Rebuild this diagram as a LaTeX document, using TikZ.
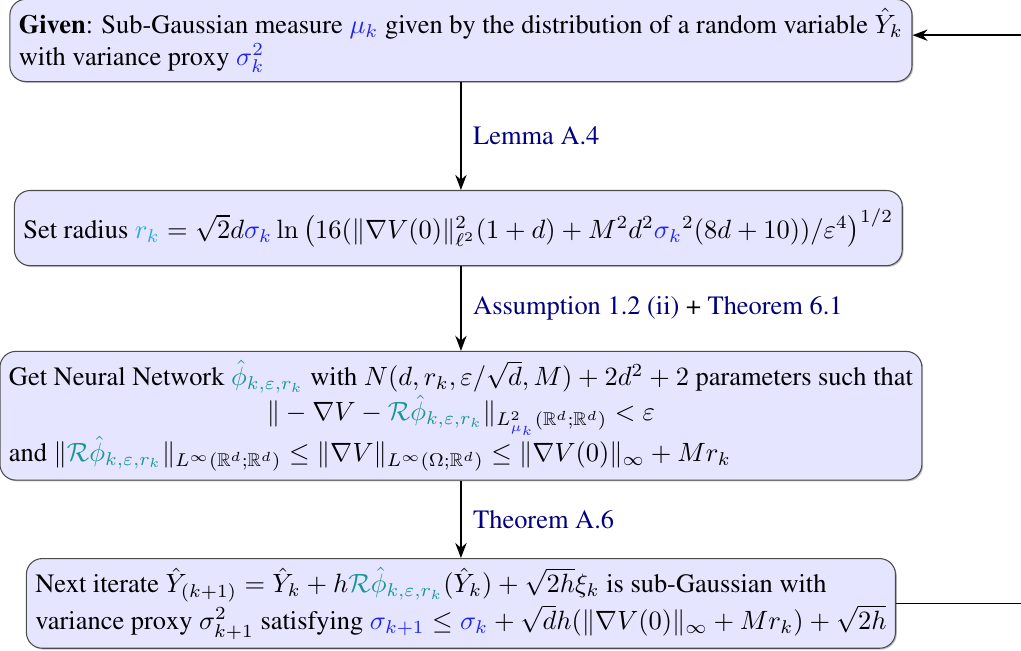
\documentclass[tikz,border=0pt]{standalone}
\usepackage{amsmath,amssymb}
\usepackage[T1]{fontenc}
\renewcommand{\rmdefault}{ptm}
\usepackage{tikz}
\usetikzlibrary{positioning,arrows.meta,calc,shadows}
\definecolor{sgblue}{RGB}{35,35,240}
\definecolor{radcyan}{RGB}{40,170,225}
\definecolor{nnteal}{RGB}{25,150,150}
\definecolor{refnavy}{HTML}{000080}
\newcommand{\eps}{\varepsilon}
\newcommand{\sk}{\textcolor{sgblue}{\sigma_k}}
\newcommand{\nnphi}{\textcolor{nnteal}{\hat{\phi}_{k,\eps,r_k}}}
\newcommand{\Rphi}{\textcolor{nnteal}{\mathcal{R}\hat{\phi}_{k,\eps,r_k}}}
\tikzset{
    stepbox/.style={rectangle,rounded corners=6pt,draw=black!70,fill=blue!10,
        minimum height=1cm,inner sep=3.4pt,align=left,
        drop shadow={shadow xshift=0.5pt,shadow yshift=-0.5pt,opacity=0.5}},
    flow/.style={->,>=Stealth,semithick},
    ref/.style={right,midway,xshift=1pt,text=refnavy},
}

\begin{document}
\begin{tikzpicture}[node distance=71pt,on grid]
    \useasboundingbox (-174.4pt,15.3pt) rectangle (211.9pt,-231pt);
    \node[stepbox] (given) at (0,0) {\textbf{Given}: Sub-Gaussian measure $\textcolor{sgblue}{\mu_k}$ given by the distribution of a random variable $\hat{Y}_k$\\
        with variance proxy $\textcolor{sgblue}{\sigma_k^2}$};
    \node[stepbox,below=of given,xshift=-1pt] (radius) {Set radius $\textcolor{radcyan}{r_k}=\sqrt{2}d\sk\ln\big(16(\|\nabla V(0)\|_{\ell^2}^2(1+d)+M^2d^2{\sk}^2(8d+10))/\eps^4\big)^{1/2}$};
    \node[stepbox,below=of radius,xshift=1pt] (network) {\begin{tabular}{@{}l@{}}
        Get Neural Network $\nnphi$ with $N(d,r_k,\eps/\sqrt{d},M)+2d^2+2$ parameters such that\\
        \multicolumn{1}{@{}c@{}}{$\|-\nabla V-\Rphi\|_{L^2_{\textcolor{sgblue}{\mu_k}}(\mathbb{R}^d;\mathbb{R}^d)}<\eps$}\\[2pt]
        and $\|\Rphi\|_{L^\infty(\mathbb{R}^d;\mathbb{R}^d)}\le\|\nabla V\|_{L^\infty(\Omega;\mathbb{R}^d)}\le\|\nabla V(0)\|_\infty+Mr_k$
    \end{tabular}};
    \node[stepbox,below=of network] (iterate) {Next iterate $\hat{Y}_{(k+1)}=\hat{Y}_k+h\Rphi(\hat{Y}_k)+\sqrt{2h}\xi_k$ is sub-Gaussian with\\
        variance proxy $\sigma_{k+1}^2$ satisfying $\textcolor{sgblue}{\sigma_{k+1}}\le\sk+\sqrt{d}h(\|\nabla V(0)\|_\infty+Mr_k)+\sqrt{2h}$};

    % arrows between the steps
    \draw[flow] (given.south -| 0,0) -- node[ref] {Lemma A.4} (radius.north -| 0,0);
    \draw[flow] (radius.south -| 0,0) -- node[ref] {Assumption 1.2 (ii) \textcolor{black}{+} Theorem 6.1} (network.north -| 0,0);
    \draw[flow] (network.south -| 0,0) -- node[ref] {Theorem A.6} (iterate.north -| 0,0);

    % back to the start
    \coordinate (back) at (212.6pt,0);
    \draw[flow] (iterate.east) -- (iterate.east -| back) -- ([yshift=2pt]given.east -| back) -- ([yshift=2pt]given.east);
\end{tikzpicture}
\end{document}
